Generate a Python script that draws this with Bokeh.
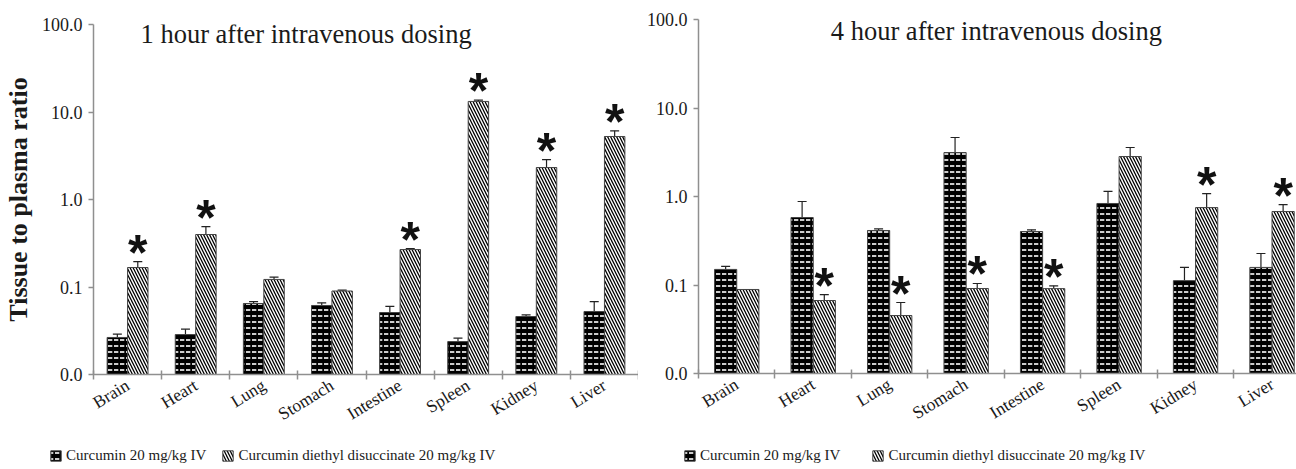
from bokeh.plotting import figure
from bokeh.models import (FixedTicker, Whisker, ColumnDataSource, Label, Legend,
                          LegendItem, TeeHead)
from bokeh.layouts import row, column
from bokeh.embed import file_html
from bokeh.resources import INLINE
from bokeh.core.properties import value

# ---------------- data ----------------
categories = ["Brain", "Heart", "Lung", "Stomach", "Intestine", "Spleen", "Kidney", "Liver"]
series_names = ["Curcumin 20 mg/kg IV", "Curcumin diethyl disuccinate 20 mg/kg IV"]
y_ticks = [0.01, 0.1, 1, 10, 100]
y_tick_labels = ["0.0", "0.1", "1.0", "10.0", "100.0"]

# 1 hour
cur_1h = [0.0265, 0.0286, 0.0648, 0.0615, 0.0511, 0.0238, 0.046, 0.0525]
cur_1h_err = [0.029, 0.033, 0.068, 0.066, 0.060, 0.026, 0.048, 0.068]
cdd_1h = [0.167, 0.398, 0.122, 0.090, 0.268, 13.2, 2.32, 5.25]
cdd_1h_err = [0.195, 0.49, 0.13, 0.092, 0.275, 13.7, 2.86, 6.1]
sig_1h = [True, True, False, False, True, True, True, True]

# 4 hour
cur_4h = [0.150, 0.579, 0.413, 3.14, 0.402, 0.834, 0.112, 0.158]
cur_4h_err = [0.162, 0.878, 0.43, 4.64, 0.42, 1.14, 0.158, 0.227]
cdd_4h = [0.089, 0.0668, 0.0452, 0.0913, 0.091, 2.83, 0.75, 0.677]
cdd_4h_err = [0.089, 0.078, 0.0634, 0.104, 0.098, 3.58, 1.08, 0.81]
sig_4h = [False, True, True, True, True, False, True, True]

titles = ["1 hour after intravenous dosing", "4 hour after intravenous dosing"]

SERIF = "Liberation Serif"
AXIS_COLOR = "#8f8f8f"
TEXT_COLOR = "#1a1a1a"

CUR_STYLE = dict(fill_color="black", line_color="#444444", line_width=1,
                 hatch_pattern="horizontal_dash", hatch_color="white",
                 hatch_scale=6, hatch_weight=1.6)
CDD_STYLE = dict(fill_color="white", line_color="#444444", line_width=1,
                 hatch_pattern="left_diagonal_line", hatch_color="black",
                 hatch_scale=6, hatch_weight=1.3)

LEG_H = 31


def make_panel(title, cur, cur_err, cdd, cdd_err, sig, frame_w, frame_h,
               b_left, b_top, b_right, b_bottom, xmax, bar_w,
               title_x, title_y, ylabel):
    p = figure(frame_width=frame_w, frame_height=frame_h,
               x_range=(0, xmax), y_range=(0.01, 100),
               y_axis_type="log", output_backend="svg", toolbar_location=None,
               min_border_left=b_left, min_border_top=b_top,
               min_border_right=b_right, min_border_bottom=b_bottom)
    p.grid.visible = False
    p.outline_line_color = None
    p.background_fill_color = "white"

    centers = [i + 0.5 for i in range(len(categories))]
    x_cur = [c - bar_w / 2 for c in centers]
    x_cdd = [c + bar_w / 2 for c in centers]

    src_cur = ColumnDataSource(dict(x=x_cur, top=cur, err=cur_err))
    src_cdd = ColumnDataSource(dict(x=x_cdd, top=cdd, err=cdd_err))

    p.vbar(x="x", top="top", bottom=0.01, width=bar_w, source=src_cur, **CUR_STYLE)
    p.vbar(x="x", top="top", bottom=0.01, width=bar_w, source=src_cdd, **CDD_STYLE)

    for src in (src_cur, src_cdd):
        w = Whisker(source=src, base="x", upper="err", lower="top", dimension="height",
                    line_color="#222222", line_width=1.2,
                    upper_head=TeeHead(size=9, line_color="#222222", line_width=1.2),
                    lower_head=None)
        p.add_layout(w)

    sx = [x for x, s in zip(x_cdd, sig) if s]
    sy = [e for e, s in zip(cdd_err, sig) if s]
    p.text(x=sx, y=sy, text=["*"] * len(sx), text_font=value("Liberation Sans"),
           text_font_style="bold", text_font_size="50px", text_align="center",
           text_baseline="alphabetic", y_offset=-9, text_color="#111111")

    p.add_layout(Label(x=title_x, y=title_y, text=title, text_font=SERIF,
                       text_font_size="26.5px", text_color=TEXT_COLOR,
                       text_baseline="alphabetic"))

    # x axis
    xa = p.xaxis[0]
    xa.ticker = FixedTicker(ticks=centers, minor_ticks=list(range(len(categories) + 1)))
    xa.major_label_overrides = {c: n for c, n in zip(centers, categories)}
    xa.major_tick_line_color = None
    xa.major_tick_out = 5
    xa.major_tick_in = 0
    xa.minor_tick_line_color = AXIS_COLOR
    xa.minor_tick_line_width = 1.5
    xa.minor_tick_in = 4
    xa.minor_tick_out = 5
    xa.axis_line_color = AXIS_COLOR
    xa.axis_line_width = 1.5
    xa.major_label_orientation = 0.55
    xa.major_label_standoff = 4
    xa.major_label_text_font = SERIF
    xa.major_label_text_font_size = "17.5px"
    xa.major_label_text_color = TEXT_COLOR

    # y axis
    ya = p.yaxis[0]
    ya.ticker = FixedTicker(ticks=y_ticks)
    ya.major_label_overrides = {t: l for t, l in zip(y_ticks, y_tick_labels)}
    ya.minor_tick_line_color = None
    ya.major_tick_line_color = AXIS_COLOR
    ya.major_tick_line_width = 1.5
    ya.major_tick_out = 5
    ya.major_tick_in = 0
    ya.axis_line_color = AXIS_COLOR
    ya.axis_line_width = 1.5
    ya.major_label_standoff = 6
    ya.major_label_text_font = SERIF
    ya.major_label_text_font_size = "18px"
    ya.major_label_text_color = TEXT_COLOR
    if ylabel:
        ya.axis_label = ylabel
        ya.axis_label_text_font = SERIF
        ya.axis_label_text_font_style = "bold"
        ya.axis_label_text_font_size = "26px"
        ya.axis_label_text_color = TEXT_COLOR
        ya.axis_label_standoff = 6
    return p


def make_legend(width, leg_x, leg_spacing):
    q = figure(width=width, height=LEG_H, x_range=(0, 1), y_range=(0, 1),
               x_axis_type=None, y_axis_type=None, output_backend="svg",
               toolbar_location=None, min_border=0)
    q.grid.visible = False
    q.outline_line_color = None
    # off-screen proxies: only used to draw the legend swatches
    r1 = q.vbar(x=[-5], top=[-5], width=0.1, **CUR_STYLE)
    r2 = q.vbar(x=[-5], top=[-5], width=0.1, **CDD_STYLE)
    legend = Legend(items=[LegendItem(label=series_names[0], renderers=[r1]),
                           LegendItem(label=series_names[1], renderers=[r2])],
                    location=(leg_x, 2), orientation="horizontal",
                    glyph_width=13, glyph_height=13, label_height=16,
                    label_standoff=4, spacing=leg_spacing, padding=0, margin=0,
                    border_line_color=None, background_fill_alpha=0,
                    label_text_font=SERIF, label_text_font_size="15px",
                    label_text_color=TEXT_COLOR)
    q.add_layout(legend)
    return q


p1 = make_panel(titles[0], cur_1h, cur_1h_err, cdd_1h, cdd_1h_err, sig_1h,
                frame_w=545, frame_h=350, b_left=93, b_top=24, b_right=0,
                b_bottom=61, xmax=8, bar_w=0.3,
                title_x=0.69, title_y=76.9, ylabel="Tissue to plasma ratio")
p2 = make_panel(titles[1], cur_4h, cur_4h_err, cdd_4h, cdd_4h_err, sig_4h,
                frame_w=598, frame_h=354, b_left=60, b_top=19, b_right=0,
                b_bottom=62, xmax=7.82, bar_w=0.29,
                title_x=1.73, title_y=75.1, ylabel=None)
l1 = make_legend(638, 49, 15)
l2 = make_legend(658, 45, 31)

layout = row(column(p1, row(l1)), column(p2, row(l2)))
open("out.html", "w").write(file_html(layout, INLINE))
